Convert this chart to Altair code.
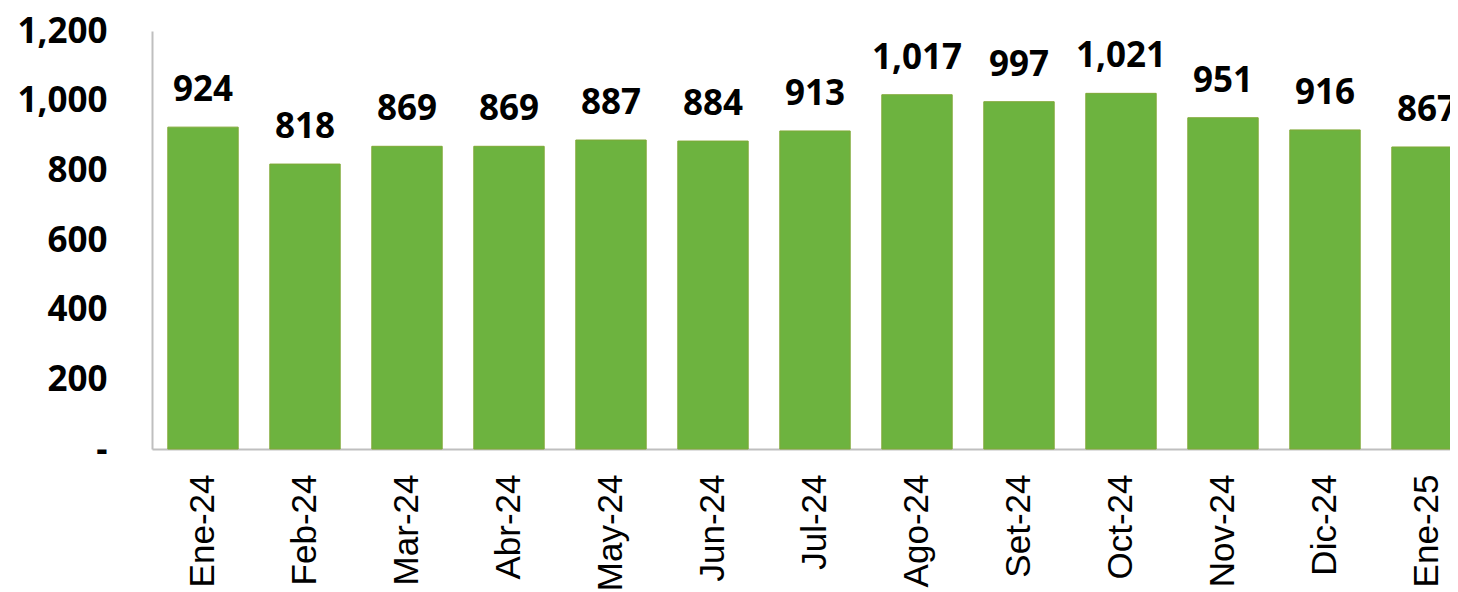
import altair as alt
import pandas as pd

months = ["Ene-24", "Feb-24", "Mar-24", "Abr-24", "May-24", "Jun-24", "Jul-24",
          "Ago-24", "Set-24", "Oct-24", "Nov-24", "Dic-24", "Ene-25"]
values = [924, 818, 869, 869, 887, 884, 913, 1017, 997, 1021, 951, 916, 867]

df = pd.DataFrame({"mes": months, "valor": values})

xscale = alt.Scale(range=[0, 1326], paddingInner=0.31, paddingOuter=0.155)

x = alt.X("mes:N", sort=months, title=None, scale=xscale,
          axis=alt.Axis(labelAngle=-90, labelFont="Liberation Sans", labelFontSize=35,
                        labelColor="#000000", labelPadding=25, ticks=False,
                        domainColor="#BFBFBF", domainWidth=2, labelFontWeight="normal"))
y = alt.Y("valor:Q", title=None,
          scale=alt.Scale(domain=[0, 1200], nice=False),
          axis=alt.Axis(values=[0, 200, 400, 600, 800, 1000, 1200], grid=False, ticks=False,
                        labelFont="Open Sans", labelFontWeight="bold", labelFontSize=35,
                        labelColor="#000000", labelPadding=45,
                        domainColor="#BFBFBF", domainWidth=2,
                        labelExpr="datum.value == 0 ? '-' : format(datum.value, ',')"))

bars = alt.Chart(df).mark_bar(color="#6DB33F", stroke="#7FA836", strokeWidth=1).encode(x=x, y=y)
text = alt.Chart(df).mark_text(font="Open Sans", fontWeight="bold", fontSize=35,
                               color="#000000", baseline="alphabetic", dy=-26).encode(
    x=alt.X("mes:N", sort=months, scale=xscale), y="valor:Q",
    text=alt.Text("valor:Q", format=","))

chart = alt.layer(bars, text).properties(
    width=1298, height=418,
    background="#FFFFFF",
    autosize=alt.AutoSizeParams(type="none"),
    padding={"left": 144, "top": 23, "right": 0, "bottom": 143},
).configure_view(stroke=None)

chart.save("out.html", embed_options={"renderer": "svg", "actions": False})
